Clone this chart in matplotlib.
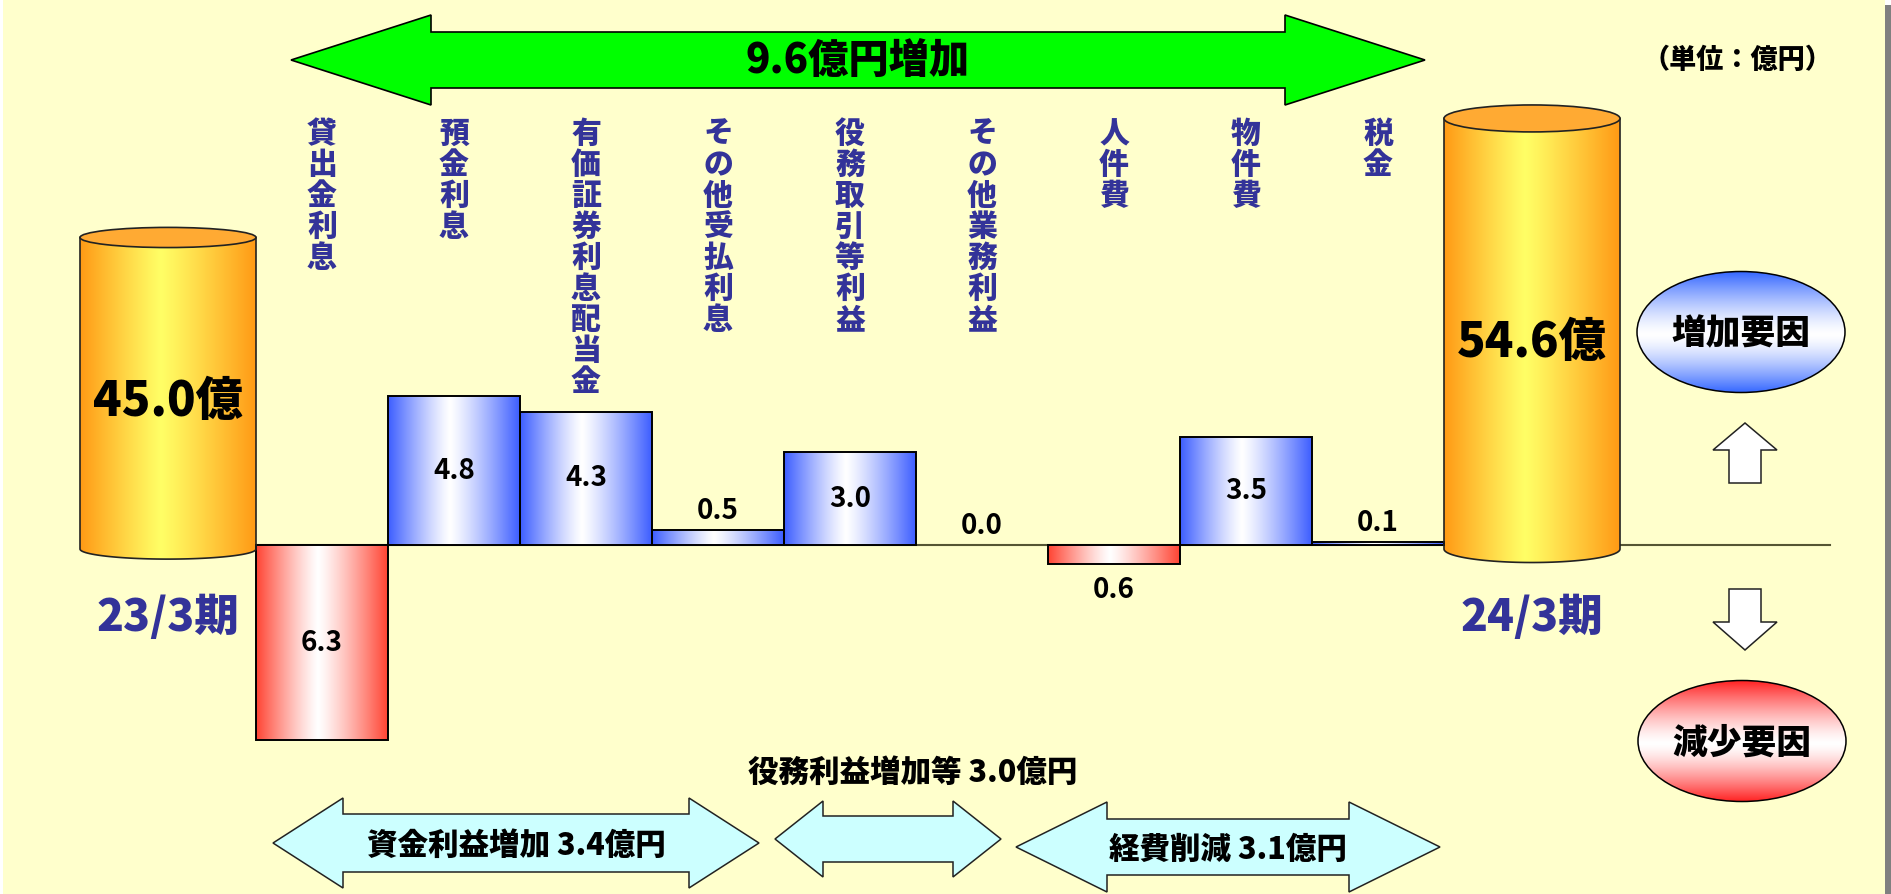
import numpy as np
import matplotlib
matplotlib.use("Agg")
import matplotlib.pyplot as plt
from matplotlib.patches import Rectangle, Ellipse, Polygon, PathPatch
from matplotlib.path import Path
from matplotlib.colors import to_rgb
from matplotlib.transforms import blended_transform_factory

plt.rcParams["font.family"] = ["Noto Sans CJK JP", "DejaVu Sans"]
plt.rcParams["font.weight"] = "heavy"

# 経常利益の増減要因 (単位: 億円)
categories = ["貸出金利息", "預金利息", "有価証券利息配当金", "その他受払利息",
              "役務取引等利益", "その他業務利益", "人件費", "物件費", "税金"]
deltas = [-6.3, 4.8, 4.3, 0.5, 3.0, 0.0, -0.6, 3.5, 0.1]
periods = ["23/3期", "24/3期"]
totals = [45.0, 54.6]
group_names = ["資金利益増加", "役務利益増加等", "経費削減"]
group_values = [3.4, 3.0, 3.1]
total_change = 9.6
factor_labels = ["増加要因", "減少要因"]
unit_label = "（単位：億円）"

W, H = 1891, 894
BG = "#FFFFCC"
NAVY = "#333399"

fig = plt.figure(figsize=(W / 100, H / 100), dpi=100)
fig.patch.set_facecolor("white")

# pixel-unit layer for the slide decorations
ov = fig.add_axes([0, 0, 1, 1])
ov.set_axis_off()
# value layer: x = item index, y = 億円
ax = fig.add_axes([0, 0, 1, 1])
ax.set_axis_off()
ax.patch.set_alpha(0)

X0, STEP, BASE, UNIT = 322, 132, 545, 31
ax_xlim = ((0 - X0) / STEP, (W - X0) / STEP)
ax_ylim = ((BASE - H) / UNIT, BASE / UNIT)


def hgrad(edge, mid, pos=0.47, p=1.2, n=256):
    t = np.linspace(0, 1, n)
    w = np.where(t < pos, (pos - t) / pos, (t - pos) / (1 - pos)) ** p
    e, m = np.array(to_rgb(edge)), np.array(to_rgb(mid))
    return (m[None, :] * (1 - w[:, None]) + e[None, :] * w[:, None])[None, :, :]


def vgrad(edge, mid, pos=0.52, p=1.4, n=256):
    return hgrad(edge, mid, pos, p, n).transpose(1, 0, 2)


def filled(axis, patch, img, extent, z):
    patch.set_facecolor("none")
    patch.set_zorder(z + 0.1)
    axis.add_patch(patch)
    im = axis.imshow(img, extent=extent, aspect="auto", interpolation="bilinear", zorder=z)
    im.set_clip_path(patch)


# slide background with shadow
ov.add_patch(Rectangle((3, 0), 1882, H, fc=BG, ec="none", zorder=0))
ov.add_patch(Rectangle((1885, 5), 6, H, fc="#808080", ec="none", zorder=0))

# big green total arrow
gx0, gx1, gy, head, hh, sh = 291, 1425, 60, 140, 45, 28
green = [(gx0, gy), (gx0 + head, gy - hh), (gx0 + head, gy - sh), (gx1 - head, gy - sh),
         (gx1 - head, gy - hh), (gx1, gy), (gx1 - head, gy + hh), (gx1 - head, gy + sh),
         (gx0 + head, gy + sh), (gx0 + head, gy + hh)]
ov.add_patch(Polygon(green, closed=True, fc="#00FF00", ec="black", lw=1.2, zorder=2))
ov.text((gx0 + gx1) / 2, gy + 2, f"{total_change:.1f}億円増加", fontsize=29,
        ha="center", va="center", zorder=3)
ov.text(1737, 60, unit_label, fontsize=19.5, ha="center", va="center")

# baseline
ax.plot([-0.5, (1830 - X0) / STEP], [0, 0], color="#555533", lw=1.5, zorder=1)

# change bars
for i, v in enumerate(deltas):
    if v != 0:
        edge = "#3D5EFF" if v > 0 else "#FF4433"
        rect = Rectangle((i - 0.5, 0), 1, v, ec="black", lw=1.4)
        filled(ax, rect, hgrad(edge, "#FFFFFF"), [i - 0.5, i + 0.5, min(0, v), max(0, v)], 3)
    if abs(v) >= 1:
        ty = v / 2
    elif v >= 0:
        ty = v + 0.6
    else:
        ty = v - 0.85
    ax.text(i, ty, f"{abs(v):.1f}", fontsize=20, weight="bold", ha="center", va="center", zorder=5)

# vertical item names
vt = blended_transform_factory(ax.transData, ov.transData)
for i, name in enumerate(categories):
    for k, ch in enumerate(name):
        ax.text(i, 133.5 + 31 * k, ch, transform=vt, fontsize=21.5, color=NAVY,
                ha="center", va="center", zorder=5)

# period cylinders (truncated scale)
CYL_FLOOR, CYL_SCALE = 20.2, 0.4
cyl_x = [-0.5 - 2 / 3, 8.5 + 2 / 3]
cyl_w = 4 / 3
cap_h = [0.65, 0.87]
cyl_bot = -0.13
for xc, v, ch, per in zip(cyl_x, totals, cap_h, periods):
    top = (v - CYL_FLOOR) * CYL_SCALE
    x0, x1 = xc - cyl_w / 2, xc + cyl_w / 2
    th = np.linspace(np.pi, 2 * np.pi, 60)
    verts = [(x0, top), (x0, cyl_bot)]
    verts += list(zip(xc + cyl_w / 2 * np.cos(th), cyl_bot + ch / 2 * np.sin(th)))
    verts += [(x1, top), (x0, top)]
    body = PathPatch(Path(verts, closed=True), ec="#222222", lw=1.2)
    filled(ax, body, hgrad("#FF9A15", "#FFFF66", pos=0.46, p=1.1),
           [x0, x1, cyl_bot - ch / 2, top], 3)
    ax.add_patch(Ellipse((xc, top), cyl_w, ch, fc="#FFAA33", ec="#222222", lw=1.2, zorder=4))
    ax.text(xc, (top + cyl_bot) / 2 - 0.28, f"{v:.1f}億", fontsize=34,
            ha="center", va="center", zorder=5)
    ax.text(xc, -2.32, per, fontsize=32, color=NAVY,
            ha="center", va="center", zorder=5)


# light-blue group arrows
def double_arrow(xl, xr, yc, head, hh, sh):
    pts = [(xl, yc), (xl + head, yc - hh), (xl + head, yc - sh), (xr - head, yc - sh),
           (xr - head, yc - hh), (xr, yc), (xr - head, yc + hh), (xr - head, yc + sh),
           (xl + head, yc + sh), (xl + head, yc + hh)]
    ov.add_patch(Polygon(pts, closed=True, fc="#CCFFFF", ec="#222222", lw=1.1, zorder=2))


double_arrow(273, 759, 843, 70, 45, 29)
double_arrow(775, 1001, 839, 48, 38, 23)
double_arrow(1016, 1440, 847, 91, 45, 28)
label_pos = [(516, 845), (913, 772), (1228, 849)]
for (tx, ty), name, val in zip(label_pos, group_names, group_values):
    ov.text(tx, ty, f"{name} {val:.1f}億円", fontsize=22, ha="center", va="center", zorder=3)

# increase / decrease legend ovals
for (cx, cy), lab, edge in zip([(1741, 332), (1742, 741)], factor_labels, ["#3366FF", "#FF2020"]):
    el = Ellipse((cx, cy), 208, 121, ec="black", lw=1.1)
    filled(ov, el, vgrad(edge, "#FFFFFF"), [cx - 104, cx + 104, cy + 61, cy - 61], 2)
    ov.text(cx, cy + 2, lab, fontsize=25, ha="center", va="center", zorder=3)

# white block arrows
up = [(1745, 423), (1777, 450), (1761, 450), (1761, 483), (1729, 483), (1729, 450), (1713, 450)]
down = [(1745, 650), (1777, 622), (1761, 622), (1761, 589), (1729, 589), (1729, 622), (1713, 622)]
for pts in (up, down):
    ov.add_patch(Polygon(pts, closed=True, fc="white", ec="#222222", lw=1.1, zorder=2))

ov.set_xlim(0, W)
ov.set_ylim(H, 0)
ax.set_xlim(*ax_xlim)
ax.set_ylim(*ax_ylim)

fig.savefig("out.png", dpi=100, facecolor=fig.get_facecolor())
